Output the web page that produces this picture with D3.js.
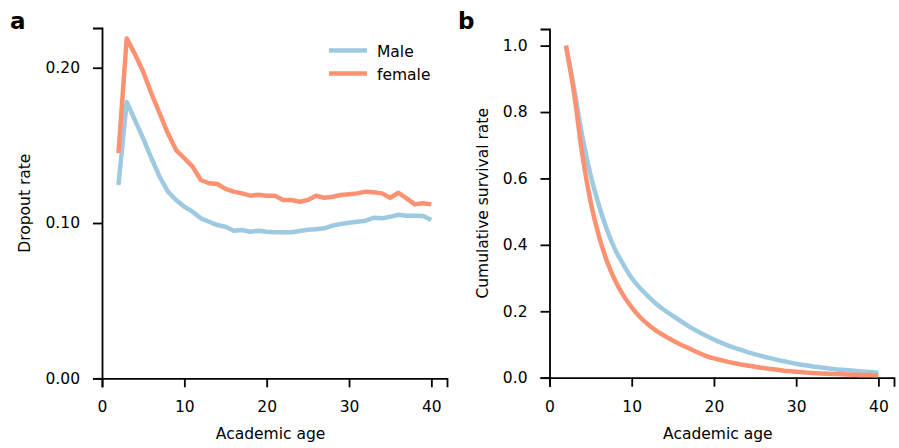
<!DOCTYPE html>
<html>
<head>
<meta charset="utf-8">
<script src="https://cdn.jsdelivr.net/npm/d3@7/dist/d3.min.js"></script>
<style>
  html, body { margin: 0; padding: 0; background: #fff; }
  svg text { font-family: "DejaVu Sans", sans-serif; fill: #000; }
</style>
</head>
<body>
<svg id="chart" width="899" height="448"></svg>
<script>
// Academic age (years since first publication)
const ages = d3.range(2, 41);

// Yearly dropout rate by academic age
const maleDropout = [0.1245, 0.178, 0.1663, 0.1545, 0.1417, 0.1298, 0.1202, 0.1148, 0.1105, 0.1073,
  0.103, 0.1008, 0.0987, 0.0976, 0.095, 0.0955, 0.0944, 0.095, 0.0944, 0.094,
  0.094, 0.094, 0.0948, 0.0957, 0.096, 0.0966, 0.0983, 0.0994, 0.1002, 0.1008,
  0.1015, 0.1034, 0.103, 0.104, 0.1053, 0.1047, 0.1047, 0.1045, 0.1019];
const femaleDropout = [0.145, 0.2189, 0.2088, 0.1974, 0.1835, 0.1706, 0.1578, 0.147, 0.1417, 0.1363,
  0.1277, 0.1256, 0.1251, 0.122, 0.1202, 0.1191, 0.1176, 0.1182, 0.1176, 0.1176,
  0.1148, 0.1148, 0.1137, 0.1148, 0.1176, 0.1163, 0.1169, 0.118, 0.1185, 0.1191,
  0.1202, 0.1198, 0.1191, 0.1163, 0.1195, 0.1159, 0.112, 0.1127, 0.112];

// Cumulative survival rate by academic age
const maleSurvival = [1.0, 0.87, 0.725, 0.61, 0.52, 0.445, 0.385, 0.34, 0.30, 0.27,
  0.245, 0.222, 0.203, 0.186, 0.170, 0.154, 0.140, 0.127, 0.115, 0.104,
  0.094, 0.086, 0.078, 0.070, 0.064, 0.058, 0.052, 0.047, 0.042, 0.038,
  0.034, 0.031, 0.028, 0.025, 0.023, 0.021, 0.019, 0.017, 0.015];
const femaleSurvival = [1.0, 0.855, 0.67, 0.53, 0.428, 0.35, 0.292, 0.247, 0.212, 0.183,
  0.160, 0.141, 0.126, 0.112, 0.099, 0.088, 0.0765, 0.066, 0.058, 0.052,
  0.046, 0.041, 0.037, 0.033, 0.029, 0.026, 0.023, 0.020, 0.018, 0.016,
  0.014, 0.013, 0.012, 0.011, 0.010, 0.009, 0.008, 0.008, 0.007];

const seriesNames = ["Male", "female"];
const colors = { Male: "#9ecae1", female: "#fc9272" };

const xTicks = [0, 10, 20, 30, 40];
const dropoutTicks = [0.0, 0.1, 0.2];
const survivalTicks = [0.0, 0.2, 0.4, 0.6, 0.8, 1.0];

const svg = d3.select("#chart");
const FONT = 15.5;
const LW = 4.5;

function drawPanel(opts) {
  const { x, y, yTicks, yFmt, series, curve, xLabel, yLabel, yLabelX, letter, letterX } = opts;
  const g = svg.append("g");

  const xAxis = d3.axisBottom(x).tickValues(xTicks).tickSizeOuter(0).tickSize(9).tickPadding(14);
  const yAxis = d3.axisLeft(y).tickValues(yTicks).tickFormat(d3.format(yFmt)).tickSizeOuter(0).tickSize(9).tickPadding(13);

  const gx = g.append("g").attr("transform", `translate(0,${y.range()[0]})`).call(xAxis);
  const gy = g.append("g").attr("transform", `translate(${x.range()[0]},0)`).call(yAxis);
  [gx, gy].forEach(a => {
    a.select(".domain").attr("stroke", "#000").attr("stroke-width", 1.8);
    a.selectAll(".tick line").attr("stroke", "#000").attr("stroke-width", 1.8);
    a.selectAll(".tick text").attr("font-size", FONT).attr("font-family", "DejaVu Sans").attr("fill", "#000");
  });

  const line = d3.line().x((d, i) => x(ages[i])).y(d => y(d)).curve(curve);
  series.forEach(s => {
    g.append("path")
      .datum(s.values)
      .attr("fill", "none")
      .attr("stroke", colors[s.name])
      .attr("stroke-width", LW)
      .attr("stroke-linejoin", "round")
      .attr("d", line);
  });

  const [x0, x1] = x.range();
  g.append("text")
    .attr("x", (x0 + x1) / 2 + 0.5 * (x(20) - (x0 + x1) / 2))
    .attr("y", 439)
    .attr("text-anchor", "middle")
    .attr("font-size", FONT)
    .text(xLabel);

  const [yb, yt] = y.range();
  g.append("text")
    .attr("transform", `translate(${yLabelX},${(yb + yt) / 2}) rotate(-90)`)
    .attr("text-anchor", "middle")
    .attr("font-size", FONT)
    .text(yLabel);

  g.append("text")
    .attr("x", letterX)
    .attr("y", 29)
    .attr("font-size", 23)
    .attr("font-weight", "bold")
    .text(letter);
}

// Panel a: dropout rate
const xA = d3.scaleLinear().domain([0, 41.9]).range([102, 447]);
const yA = d3.scaleLinear().domain([0, 0.2256]).range([378.3, 28]);
drawPanel({
  x: xA, y: yA, yTicks: dropoutTicks, yFmt: ".2f",
  series: [{ name: "Male", values: maleDropout }, { name: "female", values: femaleDropout }],
  curve: d3.curveLinear,
  xLabel: "Academic age", yLabel: "Dropout rate", yLabelX: 30,
  letter: "a", letterX: 10
});

// Legend for panel a
const legend = svg.append("g");
seriesNames.forEach((name, i) => {
  const ly = 50.5 + i * 23;
  legend.append("line")
    .attr("x1", 329).attr("x2", 367)
    .attr("y1", ly).attr("y2", ly)
    .attr("stroke", colors[name]).attr("stroke-width", LW);
  legend.append("text")
    .attr("x", 377).attr("y", ly + 6)
    .attr("font-size", FONT)
    .text(name);
});

// Panel b: cumulative survival rate
const xB = d3.scaleLinear().domain([0, 41.9]).range([549.5, 894]);
const yB = d3.scaleLinear().domain([0, 1.05]).range([377.7, 29]);
drawPanel({
  x: xB, y: yB, yTicks: survivalTicks, yFmt: ".1f",
  series: [{ name: "Male", values: maleSurvival }, { name: "female", values: femaleSurvival }],
  curve: d3.curveMonotoneX,
  xLabel: "Academic age", yLabel: "Cumulative survival rate", yLabelX: 488,
  letter: "b", letterX: 458
});
</script>
</body>
</html>
